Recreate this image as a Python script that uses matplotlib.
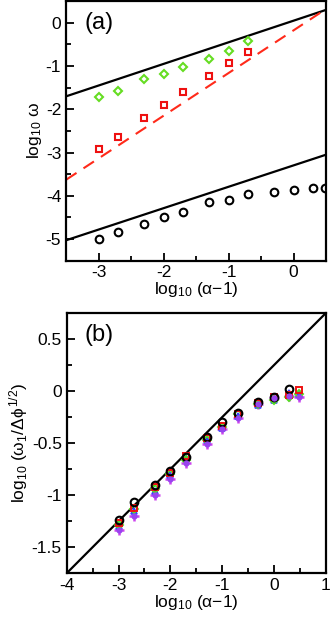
import numpy as np
import matplotlib
matplotlib.use("Agg")
import matplotlib.pyplot as plt
from matplotlib.ticker import MultipleLocator, FuncFormatter

plt.rcParams['font.family'] = ['Liberation Sans', 'DejaVu Sans']
plt.rcParams['mathtext.fontset'] = 'custom'
plt.rcParams['mathtext.rm'] = 'Liberation Sans'
plt.rcParams['mathtext.it'] = 'Liberation Sans'

# ---- panel (a) data ----
xa = [-3, -2.7, -2.3, -2, -1.7, -1.3, -1, -0.7, -0.3, 0, 0.3, 0.48]
green_a = [-1.72, -1.57, -1.29, -1.19, -1.03, -0.83, -0.64, -0.41]
red_a = [-2.91, -2.64, -2.21, -1.90, -1.59, -1.23, -0.92, -0.67]
black_a = [-5.00, -4.83, -4.65, -4.50, -4.38, -4.15, -4.10, -3.96, -3.91, -3.86, -3.83, -3.81]
line_x = [-3.5, 0.5]
upper_line = [-1.70, 0.30]
dashed_line = [-3.63, 0.32]
lower_line = [-5.03, -3.05]

# ---- panel (b) data ----
xb = [-3, -2.7, -2.3, -2, -1.7, -1.3, -1, -0.7, -0.3, 0, 0.3, 0.48]
black_b = [-1.24, -1.07, -0.90, -0.77, -0.63, -0.44, -0.30, -0.21, -0.10, -0.06, 0.02]
red_b = [-1.27, -1.12, -0.92, -0.79, -0.62, -0.45, -0.33, -0.22, -0.11, -0.06, -0.04, 0.01]
green_b = [-1.29, -1.13, -0.94, -0.80, -0.66, -0.47, -0.34, -0.22, -0.12, -0.08, -0.06, -0.03]
blue_b = [-1.30, -1.15, -0.96, -0.81, -0.64, -0.47, -0.35, -0.24, -0.13, -0.08, -0.02, -0.03]
violet_b = [-1.33, -1.20, -1.00, -0.84, -0.69, -0.51, -0.36, -0.26, -0.12, -0.07, -0.05, -0.06]
diag_x = [-4, 1]
diag_y = [-1.75, 0.75]

xlab = r'log$_{10}$ ($\alpha$$-$1)'


def num(v, p):
    # integers without decimals, halves as 0.5 etc.
    if abs(v - round(v)) < 1e-9:
        return '%d' % round(v)
    return '%g' % v


fig = plt.figure(figsize=(3.32, 6.19), dpi=100)
axA = fig.add_axes([0.199, 0.579, 0.783, 0.419])
axB = fig.add_axes([0.201, 0.074, 0.780, 0.420])

for ax in (axA, axB):
    for s in ax.spines.values():
        s.set_linewidth(1.6)
    ax.tick_params(which='both', direction='in', top=False, right=False,
                   labelsize=12.5, width=1.3)
    ax.tick_params(which='major', length=6)
    ax.tick_params(which='minor', length=3.5)
    ax.xaxis.set_major_locator(MultipleLocator(1))
    ax.xaxis.set_minor_locator(MultipleLocator(0.5))
    ax.xaxis.set_major_formatter(FuncFormatter(num))
    ax.yaxis.set_major_formatter(FuncFormatter(num))

# panel (a)
axA.plot(line_x, upper_line, color='black', lw=1.6)
axA.plot(line_x, lower_line, color='black', lw=1.6)
axA.plot(line_x, dashed_line, color='#ff2a1a', lw=1.5, ls=(0, (6, 4)))
axA.plot(xa[:len(green_a)], green_a, 'D', mfc='none', mec='#66dd22', ms=4.5, mew=1.5)
axA.plot(xa[:len(red_a)], red_a, 's', mfc='none', mec='#ee1111', ms=5, mew=1.5)
axA.plot(xa, black_a, 'o', mfc='none', mec='black', ms=5.5, mew=1.5)
axA.set_xlim(-3.5, 0.5)
axA.set_ylim(-5.5, 0.5)
axA.yaxis.set_major_locator(MultipleLocator(1))
axA.yaxis.set_minor_locator(MultipleLocator(0.5))
axA.set_xlabel(xlab, fontsize=12.5, labelpad=0)
axA.set_ylabel(r'log$_{10}$ $\omega$', fontsize=12.5, labelpad=1)
axA.text(0.07, 0.96, '(a)', transform=axA.transAxes, fontsize=17, va='top')

# panel (b)
axB.plot(diag_x, diag_y, color='black', lw=1.6)
axB.plot(xb, violet_b, '+', color='#cc44ee', ms=7, mew=1.8)
axB.plot(xb, blue_b, '^', color='#3344ff', mfc='#3344ff', ms=5, mew=1.2)
axB.plot(xb, green_b, 'D', mfc='none', mec='#55dd22', ms=4.5, mew=1.4)
axB.plot(xb, red_b, 's', mfc='none', mec='#ee1111', ms=5, mew=1.4)
axB.plot(xb[:len(black_b)], black_b, 'o', mfc='none', mec='black', ms=5.5, mew=1.5)
axB.plot(xb, violet_b, 'o', color='#9944ee', ms=4.5, mew=0)
axB.set_xlim(-4, 1)
axB.set_ylim(-1.75, 0.75)
axB.yaxis.set_major_locator(MultipleLocator(0.5))
axB.yaxis.set_minor_locator(MultipleLocator(0.25))
axB.set_xlabel(xlab, fontsize=12.5, labelpad=0)
axB.set_ylabel(r'log$_{10}$ ($\omega_1$/$\Delta\phi^{1/2}$)', fontsize=12.5, labelpad=1)
axB.text(0.07, 0.96, '(b)', transform=axB.transAxes, fontsize=17, va='top')

fig.savefig('out.png', dpi=100)
